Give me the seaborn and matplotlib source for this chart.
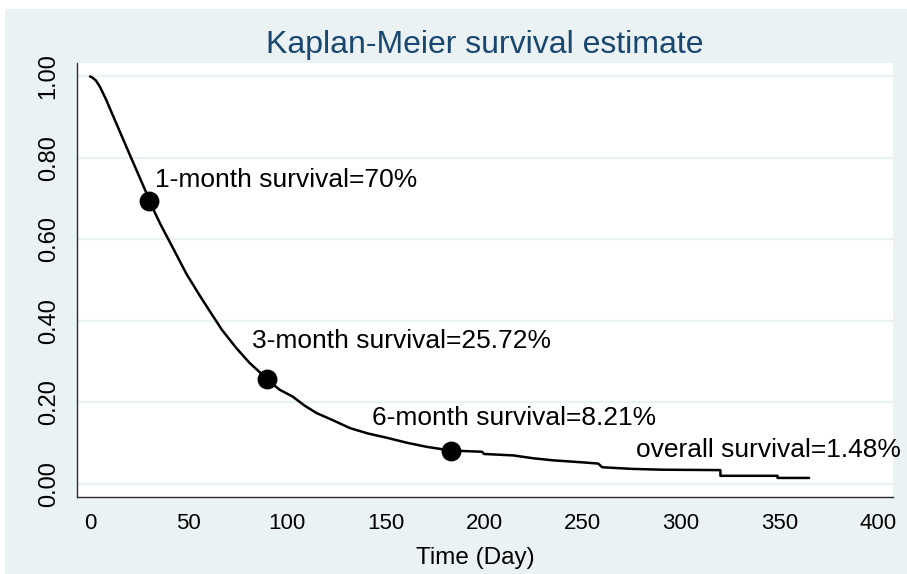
"""
Kaplan-Meier survival estimate (Stata s2color look) redrawn with seaborn
"""
import matplotlib
matplotlib.use('Agg')
import matplotlib.pyplot as plt
import seaborn as sns
import pandas as pd
from matplotlib.patches import Rectangle

# ---- data ----
time_days = [0, 1, 3, 5, 8, 12, 16, 20, 29, 30, 36, 42, 49, 56, 62, 67, 74, 81, 90,
             96, 103, 109, 115, 123, 132, 141, 151, 161, 171, 183, 199, 200,
             215, 225, 235, 250, 258, 260, 275, 290, 320, 320, 349, 349, 365]
survival = [1.0, 0.998, 0.99, 0.975, 0.945, 0.90, 0.855, 0.81, 0.71, 0.695, 0.635, 0.58,
            0.515, 0.46, 0.415, 0.378, 0.335, 0.297, 0.2572,
            0.232, 0.214, 0.192, 0.174, 0.157, 0.137, 0.124, 0.113, 0.101,
            0.091, 0.0821, 0.079, 0.0736,
            0.070, 0.063, 0.058, 0.053, 0.050, 0.041, 0.037, 0.035, 0.034, 0.020, 0.020,
            0.0148, 0.0148]

mark_days = [30, 90, 183]
mark_surv = [0.695, 0.2572, 0.0821]

labels = ['1-month survival=70%', '3-month survival=25.72%',
          '6-month survival=8.21%', 'overall survival=1.48%']
label_x = [33, 82, 143, 277]
label_y = [0.729, 0.334, 0.145, 0.066]

x_ticks = [0, 50, 100, 150, 200, 250, 300, 350, 400]
y_ticks = [0.0, 0.2, 0.4, 0.6, 0.8, 1.0]

curve = pd.DataFrame({'time': time_days, 'surv': survival})
marks = pd.DataFrame({'time': mark_days, 'surv': mark_surv})

# ---- style ----
sns.set_style('white')
plt.rcParams['font.family'] = ['Liberation Sans', 'DejaVu Sans']

bg = '#EAF2F3'
navy = '#1A476F'
axis_col = '#2b2b2b'

fig = plt.figure(figsize=(9.07, 5.74), dpi=100, facecolor='white')
# grey graph region, with the thin white strip on top and left
fig.add_artist(Rectangle((5 / 907, 0), 1, 1 - 9 / 574, transform=fig.transFigure,
                         facecolor=bg, edgecolor='none', zorder=-10))
ax = fig.add_axes([77 / 907, 77 / 574, 816 / 907, 434 / 574])
ax.set_zorder(5)
ax.set_facecolor('white')

sns.lineplot(data=curve, x='time', y='surv', estimator=None, sort=False,
             color='black', linewidth=1.8, ax=ax, zorder=3)
sns.scatterplot(data=marks, x='time', y='surv', color='black', s=175,
                edgecolor='black', ax=ax, zorder=4)

for txt, tx, ty in zip(labels, label_x, label_y):
    ax.text(tx, ty, txt, fontsize=19, color='black', va='baseline',
            ha='left', clip_on=False)

ax.set_xlim(-6.6, 407.6)
ax.set_ylim(-0.032, 1.033)
ax.set_xticks(x_ticks)
ax.set_yticks(y_ticks)
ax.set_yticklabels([f'{v:.2f}' for v in y_ticks], rotation=90, va='center')
ax.tick_params(axis='both', which='major', labelsize=16, length=6.5, width=1,
               color=axis_col, direction='out', labelcolor='black')
ax.tick_params(axis='y', labelsize=17)
ax.tick_params(axis='x', pad=5)
ax.tick_params(axis='y', pad=6)
ax.yaxis.grid(True, color=bg, linewidth=1.6)
ax.xaxis.grid(False)
ax.set_axisbelow(True)
for side in ['top', 'right']:
    ax.spines[side].set_visible(False)
for side in ['left', 'bottom']:
    ax.spines[side].set_color(axis_col)
    ax.spines[side].set_linewidth(1)

ax.set_title('Kaplan-Meier survival estimate', fontsize=23, color=navy, pad=7)
ax.set_xlabel('Time (Day)', fontsize=17.5, color='black')
ax.xaxis.label.set_va('baseline')
ax.xaxis.set_label_coords(0.488, -0.154)
ax.set_ylabel('')

plt.savefig('out.png', dpi=100, facecolor=fig.get_facecolor())
